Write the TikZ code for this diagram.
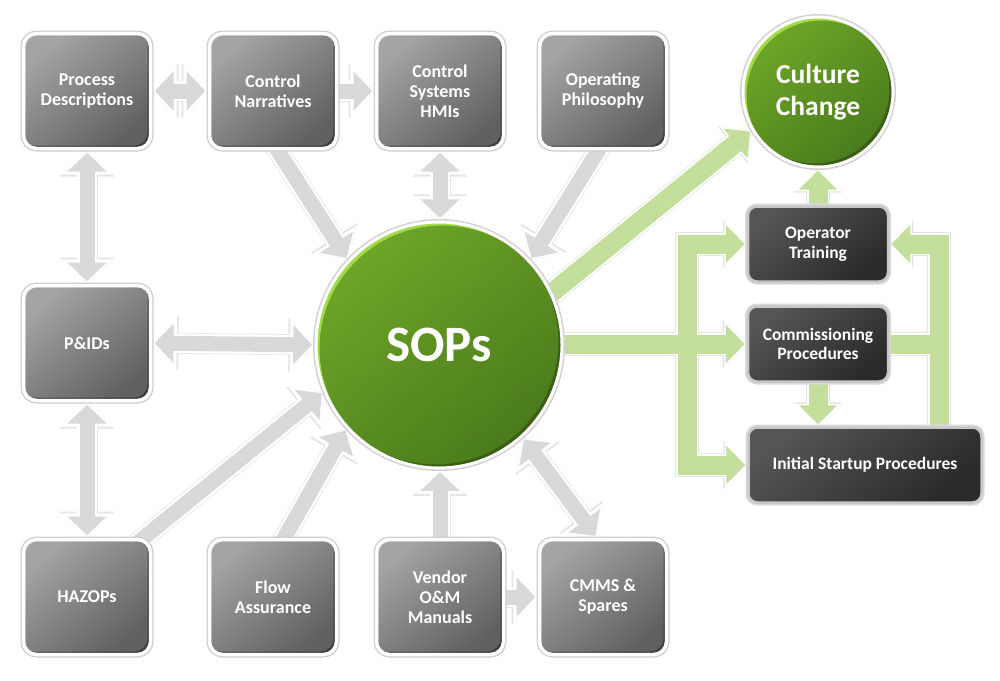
\documentclass[tikz,border=0pt]{standalone}
\usepackage{fontspec}
\setmainfont{Carlito}
\usetikzlibrary{arrows.meta,shadows,backgrounds,calc}
\definecolor{arrG}{HTML}{D9D9D9}
\definecolor{arrL}{HTML}{C4DF9B}
\definecolor{boxA}{HTML}{A4A4A4}
\definecolor{boxB}{HTML}{606060}
\definecolor{dkA}{HTML}{555555}
\definecolor{dkB}{HTML}{2A2A2A}
\definecolor{grA}{HTML}{6EA628}
\definecolor{grB}{HTML}{4A7A1B}
\definecolor{grLight}{HTML}{A2DA48}
\definecolor{grDark}{HTML}{3A5E12}

\newcommand\boxbevel{%
  \fill[black, opacity=0.35, even odd rule, rounded corners=13pt]
    (path picture bounding box.south west) rectangle (path picture bounding box.north east)
    ([shift={(-3pt,3pt)}]path picture bounding box.south west) rectangle ([shift={(-3pt,3pt)}]path picture bounding box.north east);
  \fill[white, opacity=0.15, even odd rule, rounded corners=13pt]
    (path picture bounding box.south west) rectangle (path picture bounding box.north east)
    ([shift={(2pt,-2pt)}]path picture bounding box.south west) rectangle ([shift={(2pt,-2pt)}]path picture bounding box.north east);
}
\newcommand\crescents[1]{%
  \fill[grLight, even odd rule] (path picture bounding box.center) circle[radius=#1]
    ([shift={(3.5pt,-3.5pt)}]path picture bounding box.center) circle[radius=#1];
  \fill[grDark, even odd rule] (path picture bounding box.center) circle[radius=#1]
    ([shift={(-3.5pt,3.5pt)}]path picture bounding box.center) circle[radius=#1];
}

\tikzset{
  gT/.tip={Triangle[length=0pt 1.25, width=0pt 2.55]},
  lT/.tip={Triangle[length=0pt 1.0, width=0pt 1.95]},
  gbox/.style={rectangle, rounded corners=13pt, minimum width=127pt, minimum height=115pt,
    align=center, text=white, font=\fontsize{18}{20}\selectfont\bfseries,
    top color=boxA, bottom color=boxB, shading angle=40,
    draw=white, line width=3.5pt,
    drop shadow={opacity=0.3, shadow xshift=2pt, shadow yshift=-2pt},
    preaction={draw=black!20, line width=6pt},
    path picture={\boxbevel}},
  dbox/.style={rectangle, rounded corners=9pt, minimum height=75pt,
    align=center, text=white, font=\fontsize{17.5}{19.5}\selectfont\bfseries,
    top color=dkA, bottom color=dkB, shading angle=40,
    draw=white!78!black, line width=2.5pt,
    drop shadow={opacity=0.3, shadow xshift=2pt, shadow yshift=-2pt},
    preaction={draw=black!15, line width=6pt}},
  gcirc/.style={circle, inner sep=0pt, minimum size=2*#1, text=white,
    top color=grA, bottom color=grB, shading angle=40,
    draw=white, line width=3pt,
    drop shadow={opacity=0.25, shadow xshift=2pt, shadow yshift=-2pt},
    preaction={draw=black!18, line width=6pt},
    path picture={\crescents{#1}}},
}

\newcommand\grayconn{%
  \draw[{gT}-{gT}] (pd.east) -- (cn.west);
  \draw[-{gT}] (cn.center) -- (cs.west);
  \draw[{gT}-{gT}] (pd.south) -- (pid.north);
  \draw[{gT}-{gT}] (pid.south) -- (hz.north);
  \draw[{gT}-{gT}] (pid.east) -- (sop.west);
  \draw[-{gT}] ($(cn.south)+(2,-4)$) -- (sop.137);
  \draw[{gT}-{gT}] (cs.south) -- (cs.south |- sop.north);
  \draw[-{gT}] ($(op.south)+(-2,-4)$) -- (sop.43);
  \draw[-{gT}] ($(hz.north east)+(-16,6)$) -- (sop.202);
  \draw[-{gT}] ($(fa.north)+(8,6)$) -- (sop.222);
  \draw[-{gT}] (vm.center) -- (vm.north |- sop.south);
  \draw[{gT}-{gT}] (sop.312) -- ($(cm.north)+(-6,0)$);
  \draw[-{gT}] (vm.center) -- (cm.west);
}
\newcommand\greenconn{%
  \draw[-{lT}] ($(sop.center)+(67,-15)$) -- (cc.210);
  \draw[-{lT}] (sop.center |- cp.west) -- (cp.west);
  \draw[-{lT}] (ot.center) -- (ot.north |- cc.south);
  \draw[-{lT}] (cp.center) -- (cp.south |- is.north);
  \draw[{lT}-{lT}] (ot.west) -| (lx) |- (is.west);
  \draw[-{lT}] (rx |- is.center) |- (ot.east);
  \draw (cp.center) -- (rx |- cp.east);
}

\begin{document}
\begin{tikzpicture}[x=1pt, y=-1pt]
\useasboundingbox (0,0) rectangle (1000,680);

% gray boxes
\node[gbox] (pd)  at (87,91)   {Process\\Descriptions};
\node[gbox] (cn)  at (273,91)  {Control\\Narratives};
\node[gbox] (cs)  at (440,91)  {Control\\Systems\\HMIs};
\node[gbox] (op)  at (603,91)  {Operating\\Philosophy};
\node[gbox] (pid) at (87,343)  {P\&IDs};
\node[gbox] (hz)  at (87,597)  {HAZOPs};
\node[gbox] (fa)  at (273,597) {Flow\\Assurance};
\node[gbox] (vm)  at (440,597) {Vendor\\O\&M\\Manuals};
\node[gbox] (cm)  at (603,597) {CMMS \&\\Spares};

% circles
\node[gcirc=123, font=\fontsize{51}{60}\selectfont\bfseries] (sop) at (439,345) {SOPs};
\node[gcirc=75, align=center, font=\fontsize{27.5}{32}\selectfont\bfseries] (cc) at (818,92) {Culture\\Change};

% dark boxes
\node[dbox, minimum width=140pt] (ot) at (818,244) {Operator\\Training};
\node[dbox, minimum width=140pt] (cp) at (818,344) {Commissioning\\Procedures};
\node[dbox, minimum width=233pt] (is) at (865,465) {Initial Startup Procedures};

\coordinate (lx) at (687,350);
\coordinate (rx) at (939,350);

\begin{pgfonlayer}{background}
  \fill[white] (0,0) rectangle (1000,680);
  \begin{scope}[color=black!10, line width=21pt] \grayconn \end{scope}
  \begin{scope}[color=white, line width=19.5pt] \grayconn \end{scope}
  \begin{scope}[color=arrG, line width=15pt, shorten >=2.5pt, shorten <=2.5pt] \grayconn \end{scope}
  \begin{scope}[color=black!10, line width=24pt] \greenconn \end{scope}
  \begin{scope}[color=white, line width=22.5pt] \greenconn \end{scope}
  \begin{scope}[color=arrL, line width=19pt, shorten >=2pt, shorten <=2pt] \greenconn \end{scope}
\end{pgfonlayer}
\end{tikzpicture}
\end{document}
